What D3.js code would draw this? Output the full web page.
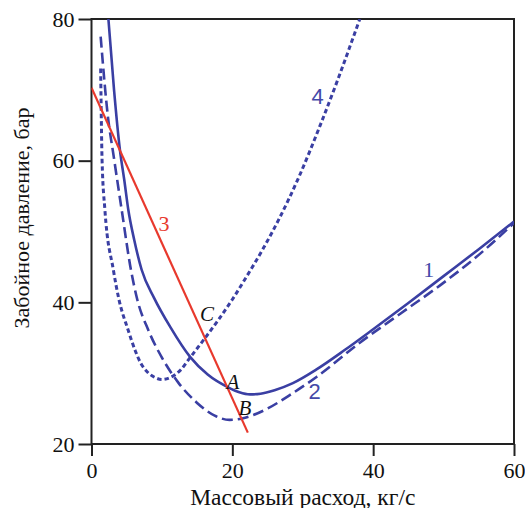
<!DOCTYPE html>
<html>
<head>
<meta charset="utf-8">
<script src="https://cdn.jsdelivr.net/npm/d3@7"></script>
<style>
  body { margin: 0; background: #fff; }
  svg { display: block; }
  text { font-family: "Liberation Serif", "DejaVu Serif", serif; }
  .sans { font-family: "Liberation Sans", "DejaVu Sans", sans-serif; }
</style>
</head>
<body>
<script>
(function() {

    const width = 525;
    const height = 508;

    // curve 1 (solid)
    const curve1X = [2.4, 3.2, 4.04, 4.65, 5.22, 6.07, 7.12, 8.9, 11.2, 14, 16.5, 19.4, 21, 22.5, 24, 26, 28.6, 31.9, 36, 40, 45, 50, 55, 60];
    const curve1Y = [80, 70, 61.5, 57.3, 53.1, 48.8, 44.6, 40.6, 36.5, 32.3, 29.8, 28, 27.3, 27, 27.1, 27.6, 28.6, 30.5, 33.3, 36.2, 39.9, 43.7, 47.5, 51.4];

    // curve 2 (long dashes)
    const curve2X = [1.3, 2.3, 3.2, 4.28, 5.6, 6.5, 8.06, 10, 12.3, 15, 17.5, 19.6, 21.4, 23, 25, 28, 32, 38.1, 44, 49.5, 55, 60];
    const curve2Y = [77.5, 66.5, 60.3, 53.1, 44.6, 40.4, 36.1, 32.2, 28.7, 25.8, 24, 23.4, 23.6, 24.1, 25, 26.8, 29.5, 34.3, 38.5, 42.4, 46.7, 51.2];

    // curve 4 (short dashes)
    const curve4X = [1.3, 1.5, 1.9, 3.1, 3.9, 5.2, 6.2, 7, 8, 9, 10, 11.2, 12.6, 14, 16, 18, 20, 22, 24.5, 26.7, 29.5, 32.4, 35, 38.1];
    const curve4Y = [73, 60.1, 53.1, 44.6, 40.4, 36.1, 33.2, 31.4, 30.1, 29.4, 29.1, 29.4, 30.4, 32.2, 34.8, 37.5, 40.4, 43.6, 47.8, 51.9, 57.8, 64.8, 71.5, 80];

    // line 3 (red)
    const line3X = [0, 22.2];
    const line3Y = [70.3, 21.6];

    const xTicks = [0, 20, 40, 60];
    const yTicks = [20, 40, 60, 80];

    const curveLabels = [
        { t: "1", x: 47.9, y: 44.6, c: "#4449a8", cls: "" },
        { t: "2", x: 31.7, y: 27.4, c: "#4449a8", cls: "sans" },
        { t: "3", x: 10.3, y: 51.2, c: "#e8392d", cls: "" },
        { t: "4", x: 32.1, y: 69.1, c: "#4449a8", cls: "sans" }
    ];
    const pointLabels = [
        { t: "A", x: 20.1, y: 28.8 },
        { t: "B", x: 21.8, y: 25.1 },
        { t: "C", x: 16.4, y: 38.3 }
    ];

    const margin = { left: 91.5, right: 11, top: 19, bottom: 64 };

    const x = d3.scaleLinear().domain([0, 60]).range([margin.left, width - margin.right]);
    const y = d3.scaleLinear().domain([20, 80]).range([height - margin.bottom, margin.top]);

    const svg = d3.select("body").append("svg")
        .attr("width", width)
        .attr("height", height);

    svg.append("defs").append("clipPath").attr("id", "plot")
        .append("rect")
        .attr("x", x(0)).attr("y", y(80))
        .attr("width", x(60) - x(0)).attr("height", y(20) - y(80));

    // frame
    svg.append("rect")
        .attr("x", x(0)).attr("y", y(80))
        .attr("width", x(60) - x(0)).attr("height", y(20) - y(80))
        .attr("fill", "none")
        .attr("stroke", "#222")
        .attr("stroke-width", 2);

    const xAxis = svg.append("g")
        .attr("transform", "translate(0," + y(20) + ")")
        .call(d3.axisBottom(x).tickValues(xTicks).tickSize(12).tickPadding(6).tickFormat(d3.format("d")));
    const yAxis = svg.append("g")
        .attr("transform", "translate(" + x(0) + ",0)")
        .call(d3.axisLeft(y).tickValues(yTicks).tickSize(13).tickPadding(4).tickFormat(d3.format("d")));

    [xAxis, yAxis].forEach(function(a) {
        a.attr("font-family", null).attr("font-size", null);
        a.select(".domain").remove();
        a.selectAll(".tick line").attr("stroke", "#222").attr("stroke-width", 2);
        a.selectAll(".tick text")
            .attr("fill", "#111")
            .style("font-size", "22px");
    });

    svg.append("text")
        .attr("x", (x(0) + x(60)) / 2)
        .attr("y", 505)
        .attr("text-anchor", "middle")
        .style("font-size", "23.5px")
        .attr("fill", "#111")
        .text("Массовый расход, кг/с");

    svg.append("text")
        .attr("transform", "translate(29," + 218 + ") rotate(-90)")
        .attr("text-anchor", "middle")
        .style("font-size", "22px")
        .attr("fill", "#111")
        .text("Забойное давление, бар");

    const plot = svg.append("g").attr("clip-path", "url(#plot)");

    const line = d3.line()
        .x(function(d) { return x(d[0]); })
        .y(function(d) { return y(d[1]); })
        .curve(d3.curveMonotoneX);

    function pts(xs, ys) { return xs.map(function(v, i) { return [v, ys[i]]; }); }

    plot.append("path")
        .attr("d", line(pts(curve4X, curve4Y)))
        .attr("fill", "none")
        .attr("stroke", "#3a3fa3")
        .attr("stroke-width", 3)
        .attr("stroke-dasharray", "4.5,3");

    plot.append("path")
        .attr("d", line(pts(curve2X, curve2Y)))
        .attr("fill", "none")
        .attr("stroke", "#3a3fa3")
        .attr("stroke-width", 2.6)
        .attr("stroke-dasharray", "11,5");

    plot.append("path")
        .attr("d", line(pts(curve1X, curve1Y)))
        .attr("fill", "none")
        .attr("stroke", "#3a3fa3")
        .attr("stroke-width", 2.6);

    plot.append("path")
        .attr("d", d3.line().x(function(d) { return x(d[0]); }).y(function(d) { return y(d[1]); })(pts(line3X, line3Y)))
        .attr("fill", "none")
        .attr("stroke", "#e8392d")
        .attr("stroke-width", 2.2);

    svg.selectAll(".clabel")
        .data(curveLabels)
        .enter()
        .append("text")
        .attr("class", function(d) { return "clabel " + d.cls; })
        .attr("x", function(d) { return x(d.x); })
        .attr("y", function(d) { return y(d.y); })
        .attr("text-anchor", "middle")
        .attr("dominant-baseline", "central")
        .attr("fill", function(d) { return d.c; })
        .style("font-size", "22px")
        .text(function(d) { return d.t; });

    svg.selectAll(".plabel")
        .data(pointLabels)
        .enter()
        .append("text")
        .attr("class", "plabel")
        .attr("x", function(d) { return x(d.x); })
        .attr("y", function(d) { return y(d.y); })
        .attr("text-anchor", "middle")
        .attr("dominant-baseline", "central")
        .attr("fill", "#111")
        .style("font-style", "italic")
        .style("font-size", "21px")
        .text(function(d) { return d.t; });

})();
</script>
</body>
</html>
